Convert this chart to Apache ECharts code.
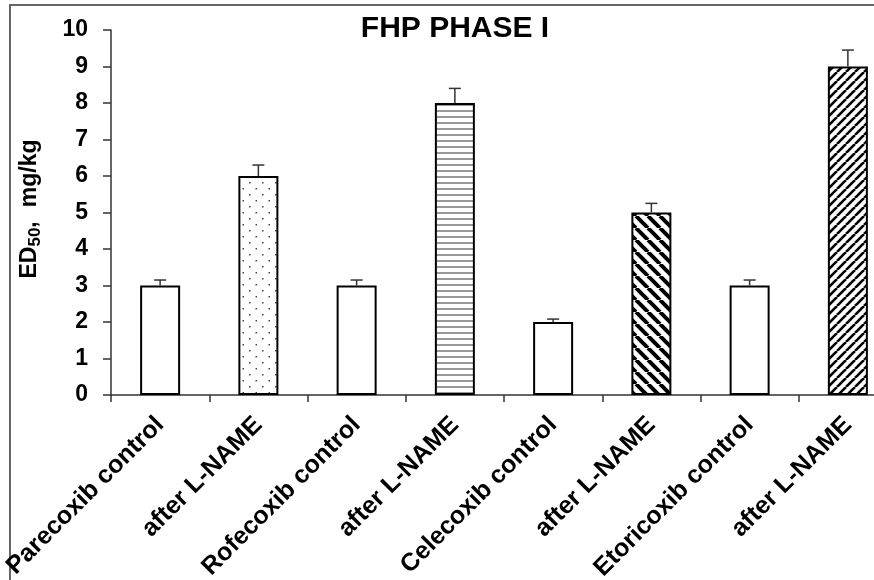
<!DOCTYPE html>
<html>
<head>
<meta charset="utf-8">
<script src="https://cdn.jsdelivr.net/npm/echarts@6/dist/echarts.min.js"></script>
<style>
html,body{margin:0;padding:0;background:#fff;}
#chart{width:874px;height:580px;}
</style>
</head>
<body>
<div id="chart"></div>
<script>
// ---- data ----
const categories = ['Parecoxib control', 'after L-NAME', 'Rofecoxib control', 'after L-NAME',
  'Celecoxib control', 'after L-NAME', 'Etoricoxib control', 'after L-NAME'];
const values = [3, 6, 3, 8, 2, 5, 3, 9];
const errors = [0.15, 0.3, 0.15, 0.4, 0.08, 0.25, 0.15, 0.45];
const yTicks = [0, 1, 2, 3, 4, 5, 6, 7, 8, 9, 10];
const titleText = 'FHP PHASE I';

// ---- styles ----
const barFills = ['none', 'dots', 'none', 'hlines', 'none', 'back', 'none', 'fwd'];

function makePattern(kind) {
  if (kind === 'none') return '#ffffff';
  const c = document.createElement('canvas');
  let w = 12, h = 12;
  if (kind === 'dots') { w = 13; h = 12; }
  if (kind === 'hlines') { w = 6; h = 6; }
  if (kind === 'back') { w = 12; h = 12; }
  if (kind === 'fwd') { w = 9; h = 9; }
  c.width = w; c.height = h;
  const g = c.getContext('2d');
  g.fillStyle = '#fff'; g.fillRect(0, 0, w, h);
  if (kind === 'dots') {
    g.fillStyle = '#444';
    g.fillRect(2, 2, 1.5, 1.5);
    g.fillRect(8.5, 8, 1.5, 1.5);
  } else if (kind === 'hlines') {
    g.strokeStyle = '#777'; g.lineWidth = 1.5;
    g.beginPath(); g.moveTo(0, 3); g.lineTo(w, 3); g.stroke();
  } else if (kind === 'back') {
    g.strokeStyle = '#000'; g.lineWidth = 4;
    for (let k = -1; k <= 1; k++) {
      g.beginPath(); g.moveTo(k * w, 0); g.lineTo(k * w + w, h); g.stroke();
    }
  } else if (kind === 'fwd') {
    g.strokeStyle = '#000'; g.lineWidth = 2.6;
    for (let k = -1; k <= 1; k++) {
      g.beginPath(); g.moveTo(k * w, h); g.lineTo(k * w + w, 0); g.stroke();
    }
  }
  return { image: c, repeat: 'repeat' };
}

const barData = values.map((v, i) => ({
  value: v,
  itemStyle: { color: makePattern(barFills[i]) }
}));

const chart = echarts.init(document.getElementById('chart'), null, { renderer: 'canvas' });
const FONT = 'Liberation Sans, Arial, sans-serif';

chart.setOption({
  backgroundColor: '#fff',
  animation: false,
  title: {
    text: titleText,
    left: 450, top: 9, textAlign: 'center',
    textStyle: { fontFamily: FONT, fontWeight: 'bold', fontSize: 30, color: '#000' }
  },
  grid: { left: 111, top: 30, bottom: 185, right: -23, containLabel: false, outerBoundsMode: 'none' },
  xAxis: {
    type: 'category',
    data: categories,
    axisLine: { lineStyle: { color: '#333', width: 1.5 } },
    axisTick: { show: true, length: 7, lineStyle: { color: '#333', width: 1.5 } },
    axisLabel: {
      rotate: 45, interval: 0, margin: 26,
      fontFamily: FONT, fontWeight: 'bold', fontSize: 25, color: '#000'
    }
  },
  yAxis: {
    type: 'value', min: 0, max: 10, interval: 1,
    axisLine: { show: true, lineStyle: { color: '#333', width: 1.5 } },
    axisTick: { show: true, length: 8, lineStyle: { color: '#333', width: 1.5 } },
    splitLine: { show: false },
    axisLabel: {
      margin: 23, fontFamily: FONT, fontWeight: 'bold', fontSize: 23, color: '#000',
      formatter: v => yTicks.includes(v) ? String(v) : ''
    }
  },
  graphic: [
    {
      type: 'rect', z: -1,
      shape: { x: 10, y: 5, width: 1000, height: 1000 },
      style: { fill: 'none', stroke: '#666', lineWidth: 2 }
    },
    {
      type: 'text',
      x: 30, y: 209, rotation: Math.PI / 2,
      style: {
        text: '{a|ED}{b|50}{a|,}{s| }{a|mg/kg}',
        align: 'center', verticalAlign: 'middle',
        rich: {
          a: { fontFamily: FONT, fontWeight: 'bold', fontSize: 23, fill: '#000' },
          b: { fontFamily: FONT, fontWeight: 'bold', fontSize: 17, fill: '#000', padding: [10, 0, 0, 0] },
          s: { fontFamily: FONT, fontSize: 23, width: 14 }
        }
      }
    }
  ],
  series: [
    {
      type: 'bar',
      data: barData,
      barWidth: 40,
      itemStyle: { borderColor: '#000', borderWidth: 2 },
      z: 2
    },
    {
      type: 'custom',
      z: 3,
      data: values.map((v, i) => [i, v, errors[i]]),
      renderItem: function (params, api) {
        const i = api.value(0), v = api.value(1), e = api.value(2);
        const top = api.coord([i, v + e]);
        const base = api.coord([i, v]);
        const hw = 6;
        return {
          type: 'group',
          children: [
            { type: 'line', shape: { x1: top[0], y1: base[1], x2: top[0], y2: top[1] },
              style: { stroke: '#333', lineWidth: 1.5 } },
            { type: 'line', shape: { x1: top[0] - hw, y1: top[1], x2: top[0] + hw, y2: top[1] },
              style: { stroke: '#333', lineWidth: 1.5 } }
          ]
        };
      }
    }
  ]
});
</script>
</body>
</html>
